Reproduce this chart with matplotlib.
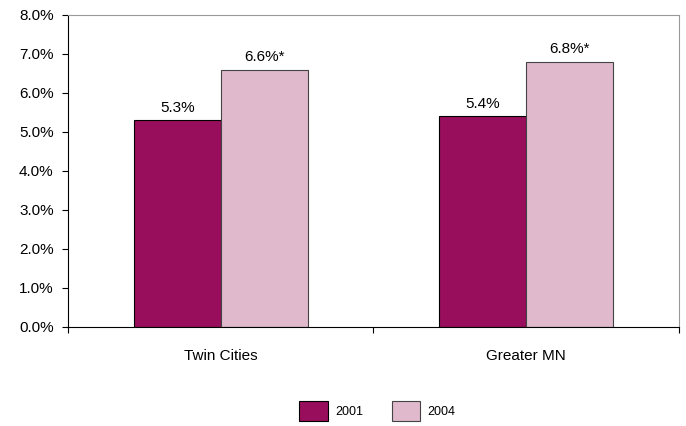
import matplotlib.pyplot as plt
import numpy as np

categories = ['Twin Cities', 'Greater MN']
vals_2001 = [5.3, 5.4]
vals_2004 = [6.6, 6.8]
labels_2001 = ['5.3%', '5.4%']
labels_2004 = ['6.6%*', '6.8%*']
yticks = [0, 1, 2, 3, 4, 5, 6, 7, 8]

plt.rcParams['font.family'] = ['Liberation Sans', 'DejaVu Sans']

fig = plt.figure(figsize=(6.86, 4.26), dpi=100)
ax = fig.add_axes([0.0991, 0.2324, 0.8907, 0.7324])

x = np.arange(len(categories))
w = 0.285
b1 = ax.bar(x - w / 2, vals_2001, w, color='#990e5c', edgecolor='black', linewidth=0.8, label='2001')
b2 = ax.bar(x + w / 2, vals_2004, w, color='#e0b9cc', edgecolor='#444444', linewidth=0.8, label='2004')

# value labels above bars
for rect, lab in zip(b1, labels_2001):
    ax.text(rect.get_x() + rect.get_width() / 2, rect.get_height() + 0.14, lab,
            ha='center', va='bottom', fontsize=11)
for rect, lab in zip(b2, labels_2004):
    ax.text(rect.get_x() + rect.get_width() / 2, rect.get_height() + 0.14, lab,
            ha='center', va='bottom', fontsize=11)

ax.set_xlim(-0.5, 1.5)
ax.set_ylim(0, 8)
ax.set_yticks(yticks)
ax.set_yticklabels(['%.1f%%' % v for v in yticks], fontsize=11)
ax.tick_params(axis='y', direction='out', length=4.3, width=0.8, pad=6)

ax.set_xticks(x)
ax.set_xticklabels(categories, fontsize=11)
ax.tick_params(axis='x', which='major', length=0, pad=16)
ax.set_xticks([-0.5, 0.5, 1.5], minor=True)
ax.tick_params(axis='x', which='minor', direction='out', length=4, width=0.8)

ax.spines['left'].set_color('black')
ax.spines['bottom'].set_color('black')
ax.spines['top'].set_color('#999999')
ax.spines['right'].set_color('#999999')
for s in ax.spines.values():
    s.set_linewidth(0.8)

fig.legend(handles=[b1, b2], labels=['2001', '2004'], loc='center',
           bbox_to_anchor=(0.55, 0.035), ncol=2, frameon=False,
           fontsize=9, handlelength=2.3, handleheight=2.0, columnspacing=2.3,
           handletextpad=0.56)

fig.savefig('out.png', dpi=100)
